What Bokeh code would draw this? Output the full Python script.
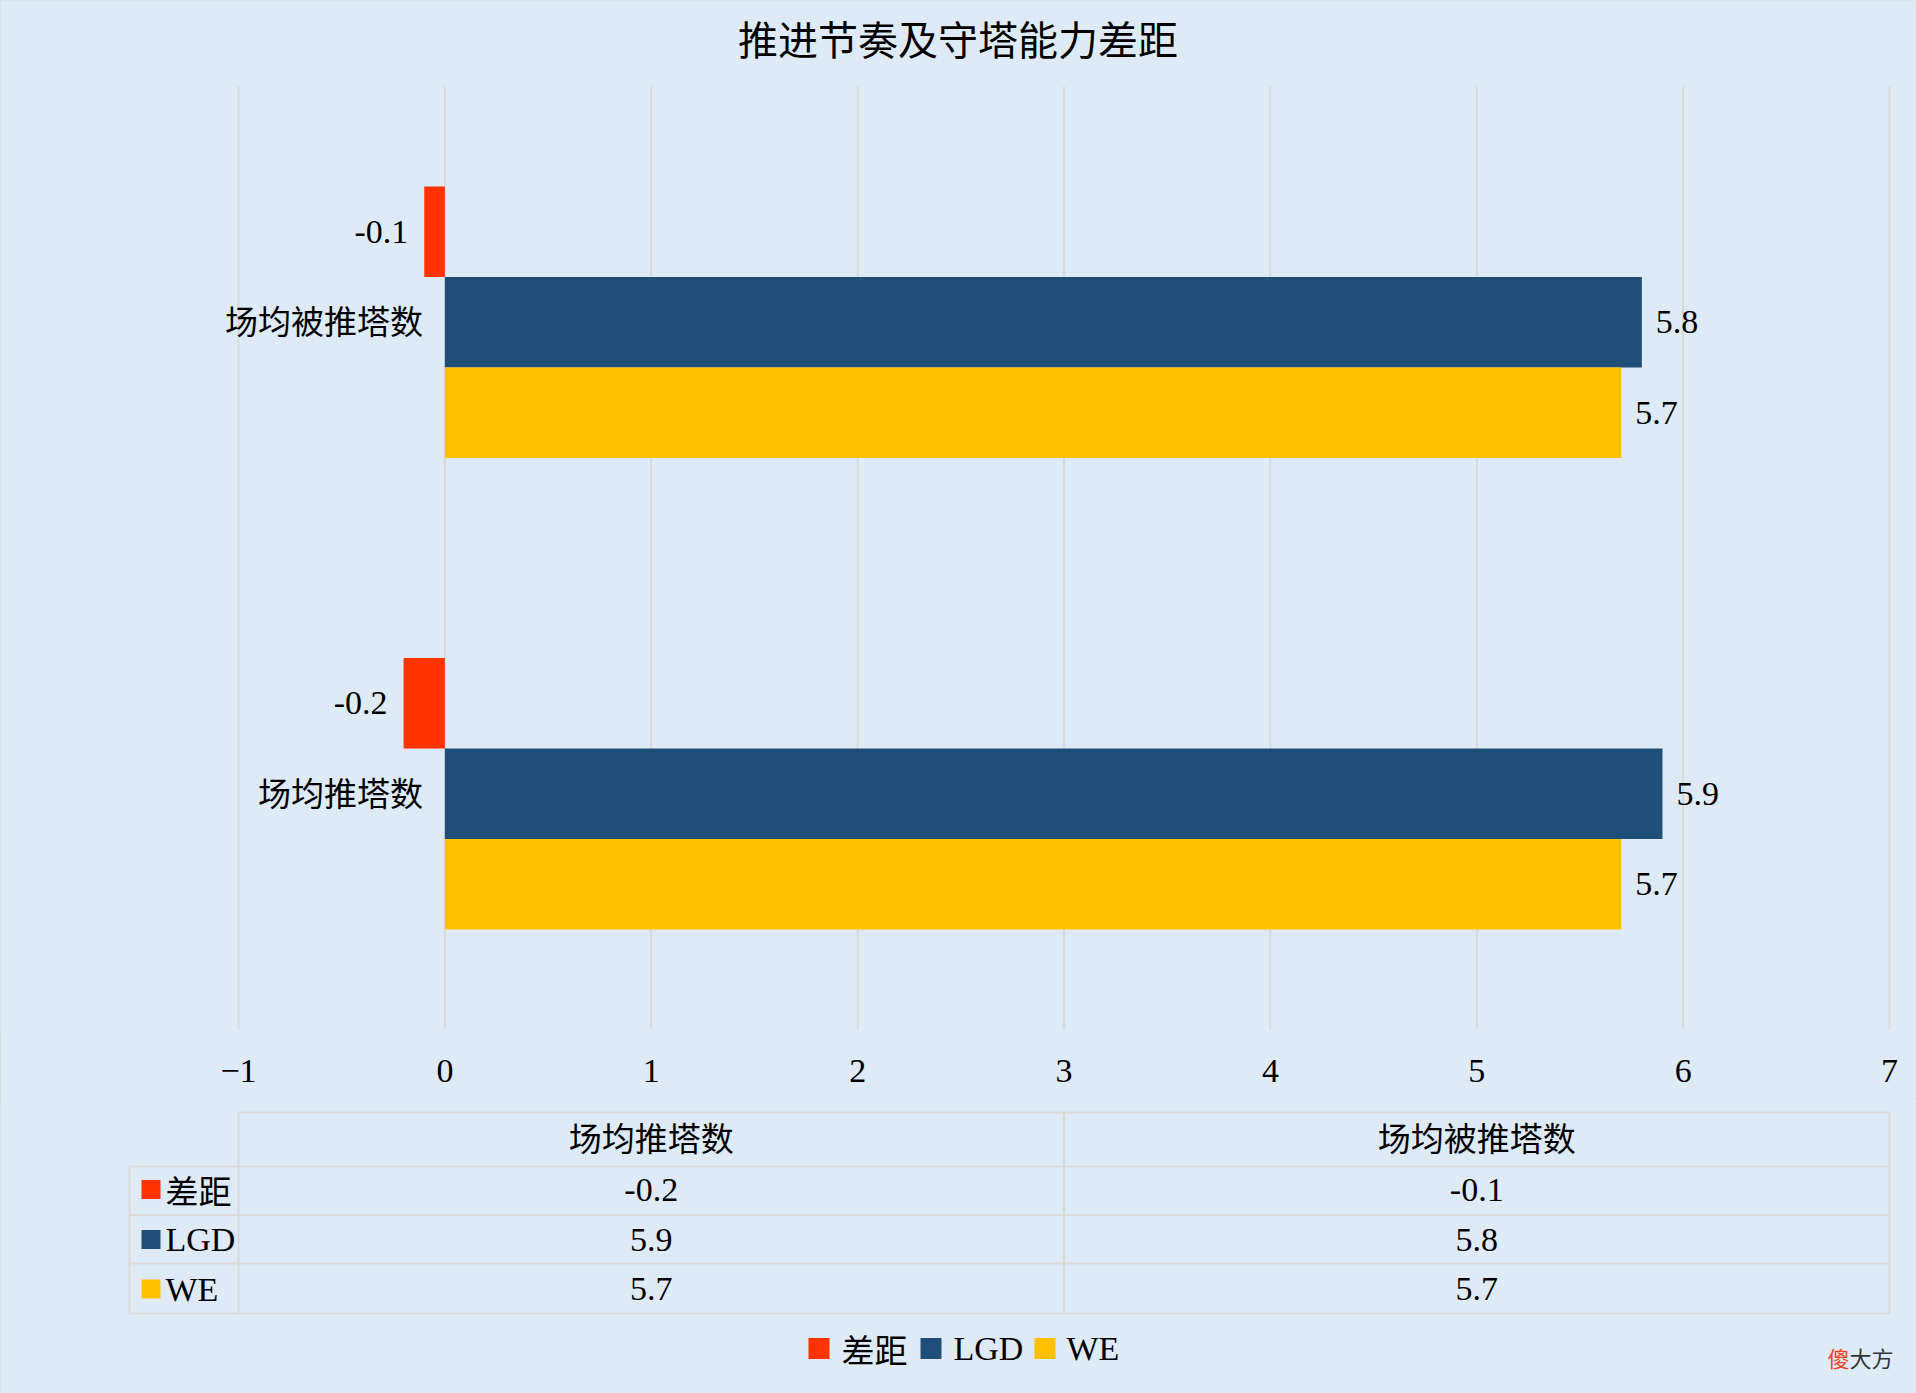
from bokeh.plotting import figure
from bokeh.models import ColumnDataSource, Range1d, FixedTicker
from bokeh.layouts import column
from bokeh.embed import file_html
from bokeh.resources import INLINE
from bokeh.core.properties import value

# ---------------- data ----------------
title_text = "推进节奏及守塔能力差距"
categories = ["场均推塔数", "场均被推塔数"]   # bottom → top
series = ["差距", "LGD", "WE"]
gap = [-0.2, -0.1]
lgd = [5.9, 5.8]
we = [5.7, 5.7]
x_ticks = [-1, 0, 1, 2, 3, 4, 5, 6, 7]

# ---------------- style ----------------
colors = ["#FF3300", "#1F4E79", "#FFC000"]
BG = "#DEEBF7"
GRID = "#D9D9D9"
CJK = "Noto Sans CJK SC"
LAT = "Liberation Serif"
TXT = "#000000"
FS_CJK = "33px"
FS_LAT = "34px"


def font_for(s):
    return LAT if all(ord(c) < 128 for c in s) else CJK


def size_for(s):
    return FS_LAT if font_for(s) == LAT else FS_CJK


W = 1916
H1 = 1103
H2 = 290
PLOT_L, PLOT_R = 238, 1889          # pixel columns of first / last tick
PLOT_T, PLOT_B = 86, 1029           # pixel rows of category band top / bottom
UNIT = (PLOT_R - PLOT_L) / (x_ticks[-1] - x_ticks[0])
XR = (x_ticks[0] - PLOT_L / UNIT, x_ticks[-1] + (W - PLOT_R) / UNIT)
ncat = len(categories)
UNIT_Y = (PLOT_B - PLOT_T) / ncat
YR = (0, ncat + PLOT_T / UNIT_Y)

values = [gap, lgd, we]
bar_h = 0.192
offsets = [bar_h, 0.0, -bar_h]
cat_y = [k + 0.5 for k in range(ncat)]


def px(r):
    return (r - PLOT_L) / UNIT + x_ticks[0]


def py(r):
    return (PLOT_B - r) / UNIT_Y


# ---------------- main chart ----------------
p = figure(width=W, height=H1,
           x_range=Range1d(*XR), y_range=Range1d(*YR),
           output_backend="svg", toolbar_location=None,
           min_border_left=0, min_border_right=0,
           min_border_top=0, min_border_bottom=H1 - PLOT_B,
           background_fill_color=BG, border_fill_color=BG,
           outline_line_color=None, y_axis_location=None)

p.xaxis.ticker = FixedTicker(ticks=x_ticks)
p.xaxis.axis_line_color = None
p.xaxis.major_tick_line_color = None
p.xaxis.minor_tick_line_color = None
p.xaxis.major_tick_out = 0
p.xaxis.major_tick_in = 0
p.xaxis.major_label_standoff = 30
p.xaxis.major_label_text_font = LAT
p.xaxis.major_label_text_font_size = FS_LAT
p.xaxis.major_label_text_color = TXT
p.grid.visible = False

# vertical gridlines over the category band only
p.segment(x0=x_ticks, y0=[0] * len(x_ticks), x1=x_ticks, y1=[ncat] * len(x_ticks),
          line_color=GRID, line_width=2)

# title
p.text(x=[px(957.5)], y=[py(39.5)], text=[title_text], text_align="center",
       text_baseline="middle", text_font=value(CJK), text_font_size="40px",
       text_color=TXT, y_offset=-2)

for name, vals, col, off in zip(series, values, colors, offsets):
    ys = [c + off for c in cat_y]
    src = ColumnDataSource(dict(y=ys, val=vals))
    p.hbar(y="y", left=0, right="val", height=bar_h,
           fill_color=col, line_color=None, source=src)
    for sign, align, xo in ((1, "left", 14), (-1, "right", -16)):
        idx = [i for i, v in enumerate(vals) if (v >= 0) == (sign > 0)]
        if not idx:
            continue
        lsrc = ColumnDataSource(dict(y=[ys[i] for i in idx],
                                     val=[vals[i] for i in idx],
                                     lab=[f"{vals[i]:.1f}" for i in idx]))
        p.text(x="val", y="y", text="lab", source=lsrc, x_offset=xo,
               text_align=align, text_baseline="middle", text_font=value(LAT),
               text_font_size=FS_LAT, text_color=TXT)

# category labels next to the zero line
p.text(x=[0] * ncat, y=cat_y, text=categories,
       x_offset=-22, y_offset=-2, text_align="right", text_baseline="middle",
       text_font=value(CJK), text_font_size=FS_CJK, text_color=TXT)

# ---------------- data table + legend ----------------
Y0, Y1 = H1, H1 + H2  # pixel rows covered by this panel
t = figure(width=W, height=H2,
           x_range=Range1d(*XR), y_range=Range1d(Y1, Y0),
           output_backend="svg", toolbar_location=None,
           min_border_left=0, min_border_right=0,
           min_border_top=0, min_border_bottom=0,
           background_fill_color=BG, border_fill_color=BG,
           outline_line_color=None, x_axis_location=None, y_axis_location=None)
t.grid.visible = False

x_lo, x_hi = x_ticks[0], x_ticks[-1]
cw = (x_hi - x_lo) / ncat
col_edges = [x_lo + k * cw for k in range(ncat + 1)]
col_centers = [x_lo + (k + 0.5) * cw for k in range(ncat)]
x_leg = px(129)
row_lines = [1112, 1166, 1214.5, 1263, 1313]
row_centers = [1189, 1239, 1288.5]
header_y = 1138

# horizontal borders
hx0 = [x_lo] + [x_leg] * (len(row_lines) - 1)
hx1 = [x_hi] * len(row_lines)
t.segment(x0=hx0, y0=row_lines, x1=hx1, y1=row_lines,
          line_color=GRID, line_width=2)
# vertical borders
vx = [x_leg] + col_edges
vy0 = [row_lines[1]] + [row_lines[0]] * len(col_edges)
vy1 = [row_lines[-1]] * len(vx)
t.segment(x0=vx, y0=vy0, x1=vx, y1=vy1, line_color=GRID, line_width=2)

# header
t.text(x=col_centers, y=[header_y] * ncat, text=categories, y_offset=-2,
       text_align="center", text_baseline="middle",
       text_font=value(CJK), text_font_size=FS_CJK, text_color=TXT)

# values
for vals, ry in zip(values, row_centers):
    t.text(x=col_centers, y=[ry] * ncat, text=[f"{v:.1f}" for v in vals],
           text_align="center", text_baseline="middle",
           text_font=value(LAT), text_font_size=FS_LAT, text_color=TXT)

# legend keys in the table
t.scatter(x=[px(150.5)] * len(series), y=row_centers, marker="square",
          size=19, fill_color=colors, line_color=None)
ksrc = ColumnDataSource(dict(x=[px(165)] * len(series), y=row_centers,
                             text=series, font=[font_for(s) for s in series],
                             size=[size_for(s) for s in series]))
t.text(x="x", y="y", text="text", text_font="font", text_font_size="size",
       source=ksrc, text_align="left", text_baseline="middle",
       text_color=TXT)

# bottom legend
leg_sq = [818.5, 930.5, 1044.5]
leg_tx = [841, 953, 1066]
leg_y = 1348
t.scatter(x=[px(v) for v in leg_sq], y=[leg_y] * len(series), marker="square",
          size=21, fill_color=colors, line_color=None)
lsrc = ColumnDataSource(dict(x=[px(v) for v in leg_tx], y=[leg_y] * len(series),
                             text=series, font=[font_for(s) for s in series],
                             size=[size_for(s) for s in series]))
t.text(x="x", y="y", text="text", text_font="font", text_font_size="size",
       source=lsrc, text_align="left", text_baseline="middle",
       text_color=TXT)

# watermark
t.text(x=[px(1827)], y=[1356], text=["傻"], text_align="left",
       text_baseline="middle", text_font=value(CJK), text_font_size="22px",
       text_color="#EE4422")
t.text(x=[px(1849)], y=[1356], text=["大方"], text_align="left",
       text_baseline="middle", text_font=value(CJK), text_font_size="22px",
       text_color="#333333")

layout = column(p, t, spacing=0,
                styles={"background-color": BG,
                        "outline": "2px solid #D9D9D9",
                        "outline-offset": "-2px"})
html = file_html(layout, INLINE)
html = html.replace("<body>", f'<body style="background-color:{BG};">', 1)
open("out.html", "w").write(html)
